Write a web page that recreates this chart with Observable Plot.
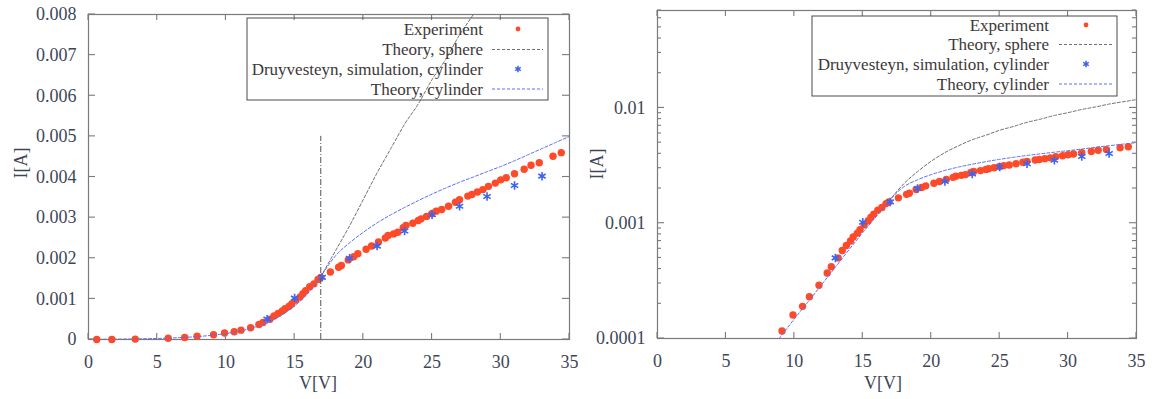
<!DOCTYPE html>
<html><head><meta charset="utf-8">
<script src="https://cdn.jsdelivr.net/npm/d3@7"></script>
<script src="https://cdn.jsdelivr.net/npm/@observablehq/plot@0.6"></script>
<style>
body{margin:0;background:#fff;}
#wrap{position:relative;width:1155px;height:399px;overflow:hidden;}
#left{position:absolute;left:0;top:0;}
#right{position:absolute;left:578px;top:0;}
</style></head><body><div id="wrap"><div id="left"></div><div id="right"></div></div>
<script>
// ---- Experiment (red dots)
const expV = [0.6, 1.7, 3.4, 5.8, 7.0, 7.9, 9.1, 9.9, 10.6, 11.1, 11.8, 12.4, 12.7, 13.2, 13.5, 13.8, 14.1, 14.3, 14.6, 14.8, 15.1, 15.4, 15.6, 15.8, 16.1, 16.4, 16.7, 16.9, 17.6, 18.2, 18.4, 18.9, 19.3, 19.6, 20.2, 20.6, 21.1, 21.6, 21.8, 22.2, 22.5, 22.9, 23.1, 23.6, 24.0, 24.2, 24.6, 25.0, 25.3, 25.7, 26.2, 26.7, 27.0, 27.6, 27.9, 28.3, 28.7, 29.1, 29.6, 30.0, 30.4, 31.0, 31.7, 32.2, 32.8, 33.8, 34.4];
const expI = [0, 0, 0.00001, 0.00003, 0.00005, 0.00008, 0.000116, 0.00016, 0.00019, 0.00023, 0.00029, 0.00037, 0.00042, 0.0005, 0.00058, 0.00064, 0.0007, 0.00076, 0.00082, 0.00088, 0.00097, 0.00105, 0.00113, 0.0012, 0.0013, 0.00137, 0.00148, 0.00153, 0.00166, 0.00178, 0.00182, 0.00196, 0.00204, 0.00211, 0.00222, 0.0023, 0.0024, 0.0025, 0.00256, 0.0026, 0.00264, 0.00275, 0.00281, 0.00286, 0.00293, 0.00297, 0.00303, 0.0031, 0.00316, 0.0032, 0.00328, 0.00338, 0.00344, 0.00353, 0.00357, 0.00363, 0.00369, 0.00377, 0.00385, 0.00393, 0.00398, 0.00408, 0.00419, 0.00429, 0.00435, 0.00451, 0.0046];
// ---- Druyvesteyn, simulation, cylinder (blue stars)
const druV = [13, 15, 17, 19, 21, 23, 25, 27, 29, 31, 33];
const druI = [0.0005, 0.00102, 0.00153, 0.002, 0.0023, 0.00267, 0.00307, 0.00328, 0.00352, 0.00379, 0.00402];
// ---- Theory, cylinder (blue dashed)
const cylV = [0, 1, 2, 3, 4, 5, 6, 7, 8, 9, 10, 11, 12, 13, 14, 15, 16, 16.9, 17.5, 18, 19, 20, 21, 22, 23, 24, 25, 26, 27, 28, 29, 30, 31, 32, 33, 34, 35];
const cylI = [0.0000047, 0.0000066, 0.0000093, 0.000013, 0.0000186, 0.000026, 0.000037, 0.000052, 0.000074, 0.000104, 0.000148, 0.000208, 0.000294, 0.000416, 0.00059, 0.00083, 0.00115, 0.00155, 0.00185, 0.00207, 0.00238, 0.00264, 0.00287, 0.00307, 0.00325, 0.00342, 0.00358, 0.00373, 0.00387, 0.004, 0.00413, 0.00426, 0.0044, 0.00455, 0.0047, 0.00485, 0.005];
// ---- Theory, sphere (gray dashed)
const sphV = [16.9, 18, 19, 20, 21, 22, 23, 24, 25, 26, 27, 28, 29, 30, 31, 32, 33, 34, 35];
const sphI = [0.00155, 0.0022, 0.0028, 0.00345, 0.0041, 0.0047, 0.0053, 0.0058, 0.0064, 0.0069, 0.0075, 0.008, 0.0086, 0.0091, 0.0097, 0.0102, 0.0108, 0.0113, 0.0118];
// ---- plasma potential marker (left chart)
const probeV = [16.9];
const probeI = [0, 0.005];
// ---- ticks and labels
const xTicks = [0, 5, 10, 15, 20, 25, 30, 35];
const yTicksLin = [0, 0.001, 0.002, 0.003, 0.004, 0.005, 0.006, 0.007, 0.008];
const yTicksLog = [0.0001, 0.001, 0.01];
const legendLabels = ["Experiment", "Theory, sphere", "Druyvesteyn, simulation, cylinder", "Theory, cylinder"];
const xTitle = "V[V]", yTitle = "I[A]";

const exp = expV.map((v, i) => ({V: v, I: expI[i]}));
const dru = druV.map((v, i) => ({V: v, I: druI[i]}));
const cyl = cylV.map((v, i) => ({V: v, I: cylI[i]}));
const sph = sphV.map((v, i) => ({V: v, I: sphI[i]}));
const probe = probeV.map(v => ({V: v, I1: probeI[0], I2: probeI[1]}));

const RED = "#ff4a2a", BLUE = "#3d63f0", LBLUE = "#5b6ef5", GRAY = "#707070";
const FONT = "'Liberation Serif','Times New Roman',serif";

function chart(cfg) {
  const H = 399;
  const isLog = cfg.yType === "log";
  const marks = [
    Plot.frame({stroke: "#7a7a7a", strokeWidth: 1.2}),
    Plot.dot(isLog ? exp.filter(d => d.I >= 0.0001) : exp, {x: "V", y: "I", r: 3.7, fill: RED, stroke: null}),
    Plot.line(sph, {x: "V", y: "I", curve: "monotone-x", stroke: GRAY, strokeWidth: 1, strokeDasharray: "3,2", clip: true}),
    Plot.dot(dru, {x: "V", y: "I", symbol: "asterisk", r: 4, stroke: BLUE, strokeWidth: 1.6}),
    Plot.line(cyl, {x: "V", y: "I", curve: "monotone-x", stroke: LBLUE, strokeWidth: 1, strokeDasharray: "3,2", clip: true}),
    Plot.axisX(xTicks, {tickSize: 0, tickPadding: 16, label: null, fontSize: 18}),
    Plot.axisY(cfg.yTicks, {tickSize: 0, tickPadding: 12, label: null, fontSize: 18, tickFormat: d => String(d)})
  ];
  if (cfg.probe) marks.push(Plot.ruleX(probe, {x: "V", y1: "I1", y2: "I2", stroke: "#555", strokeWidth: 1, strokeDasharray: "6,2,1,2"}));
  const plot = Plot.plot({
    width: cfg.width, height: H,
    marginLeft: cfg.ml, marginRight: cfg.mr, marginTop: cfg.mt, marginBottom: cfg.mb,
    style: {fontFamily: FONT, color: "#3e4656", background: "white", overflow: "visible"},
    x: {domain: [0, 35]},
    y: {type: cfg.yType, domain: cfg.yDomain},
    marks
  });
  const svg = d3.select(plot);
  const sx = plot.scale("x"), sy = plot.scale("y");
  const Lx = cfg.ml, Rx = cfg.width - cfg.mr, Ty = cfg.mt, By = H - cfg.mb;
  const g = svg.append("g").attr("stroke", "#7a7a7a").attr("stroke-width", 1.1);
  const seg = (x1, y1, x2, y2) => g.append("line").attr("x1", x1).attr("y1", y1).attr("x2", x2).attr("y2", y2);
  for (const t of xTicks) {
    const px = sx.apply(t);
    seg(px, By, px, By - 6); seg(px, Ty, px, Ty + 6);
  }
  for (const t of cfg.yTicks) {
    const py = sy.apply(t);
    seg(Lx, py, Lx + 7, py); seg(Rx, py, Rx - 7, py);
  }
  if (isLog) {
    const minor = d3.scaleLog().domain(cfg.yDomain).ticks().filter(t => !cfg.yTicks.some(m => Math.abs(m - t) / t < 1e-6));
    for (const t of minor) {
      const py = sy.apply(t);
      seg(Lx, py, Lx + 4, py); seg(Rx, py, Rx - 4, py);
    }
  }
  // axis titles
  svg.append("text").attr("x", cfg.xTitleX).attr("y", 389).attr("text-anchor", "middle")
    .attr("font-size", 18).attr("fill", "#3e4656").attr("font-family", FONT).text(xTitle);
  svg.append("text").attr("transform", `translate(${cfg.yTitleX},${cfg.yTitleY}) rotate(-90)`)
    .attr("text-anchor", "middle").attr("dominant-baseline", "central")
    .attr("font-size", 18).attr("fill", "#3e4656").attr("font-family", FONT).text(yTitle);
  // legend
  const lg = cfg.legend;
  const lgG = svg.append("g").attr("font-family", FONT);
  lgG.append("rect").attr("x", lg.x).attr("y", lg.y).attr("width", lg.w).attr("height", lg.h)
    .attr("fill", "none").attr("stroke", "#4a4a4a").attr("stroke-width", 1);
  legendLabels.forEach((lab, i) => {
    const y = lg.rows[i];
    lgG.append("text").attr("x", lg.tx).attr("y", y).attr("text-anchor", "end").attr("dominant-baseline", "central")
      .attr("font-size", 17).attr("fill", "#3d3838").text(lab);
    if (i === 0) lgG.append("circle").attr("cx", lg.sx).attr("cy", y).attr("r", 2.4).attr("fill", RED);
    if (i === 2) lgG.append("path").attr("transform", `translate(${lg.sx},${y})`)
      .attr("d", d3.symbol(d3.symbolAsterisk, 28)()).attr("stroke", BLUE).attr("stroke-width", 1.5).attr("fill", "none");
    if (i === 1 || i === 3) lgG.append("line").attr("x1", lg.l1).attr("x2", lg.l2).attr("y1", y).attr("y2", y)
      .attr("stroke", i === 1 ? GRAY : LBLUE).attr("stroke-width", 1).attr("stroke-dasharray", "3,2");
  });
  return plot;
}

document.getElementById("left").append(chart({
  width: 578, ml: 88, mr: 9, mt: 14, mb: 60,
  yType: "linear", yDomain: [0, 0.008], yTicks: yTicksLin, probe: true,
  xTitleX: 318, yTitleX: 21, yTitleY: 163,
  legend: {x: 247, y: 18, w: 301, h: 82, tx: 483, sx: 518, l1: 492, l2: 543, rows: [29, 49.5, 69, 89]}
}));
document.getElementById("right").append(chart({
  width: 577, ml: 79, mr: 19, mt: 10, mb: 61,
  yType: "log", yDomain: [0.0001, 0.07], yTicks: yTicksLog, probe: false,
  xTitleX: 305, yTitleX: 19, yTitleY: 164,
  legend: {x: 234, y: 16, w: 305, h: 80, tx: 471, sx: 508, l1: 481, l2: 534, rows: [25, 44.5, 64, 84]}
}));
</script></body></html>
